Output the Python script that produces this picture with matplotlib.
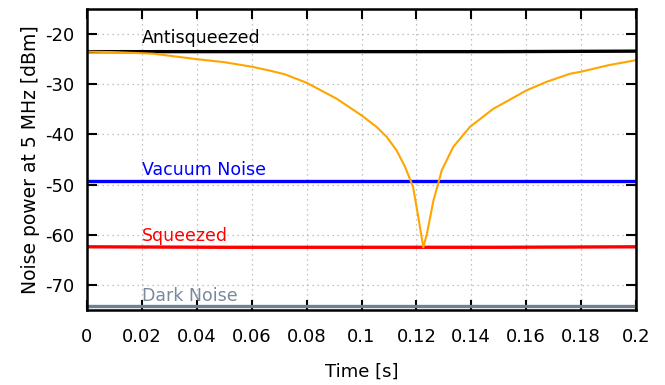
import matplotlib
matplotlib.use("Agg")
from matplotlib import pyplot as plt

# orange trace (time [s], power [dBm])
sweep_t = [0.0, 0.01, 0.024, 0.04, 0.05, 0.06, 0.0667, 0.072, 0.08, 0.091,
           0.1, 0.1055, 0.1092, 0.1128, 0.1159, 0.1188, 0.1207, 0.1225,
           0.1238, 0.1262, 0.1286, 0.1292, 0.1334, 0.1395, 0.148, 0.1602,
           0.1675, 0.176, 0.18, 0.19, 0.2]
sweep_db = [-23.5, -23.6, -23.9, -25.0, -25.6, -26.5, -27.3, -28.0, -29.7, -32.9,
            -36.2, -38.5, -40.5, -43.2, -46.5, -50.5, -56.5, -62.5,
            -59.9, -53.2, -48.5, -47.2, -42.5, -38.5, -34.9, -31.2,
            -29.5, -27.9, -27.5, -26.2, -25.2]

# flat traces
flat_t = [0.0, 0.05, 0.1, 0.15, 0.2]
antisq_db = [-23.5, -23.5, -23.5, -23.5, -23.4]
vacuum_db = [-49.3, -49.3, -49.3, -49.3, -49.3]
squeezed_db = [-62.4, -62.5, -62.5, -62.5, -62.4]
dark_db = [-74.3, -74.3, -74.3, -74.3, -74.3]

labels = ["Antisqueezed", "Vacuum Noise", "Squeezed", "Dark Noise"]
label_y = [-20.8, -47.0, -60.2, -72.2]
colors = ["black", "#0000ff", "#ff0000", "#708090"]
text_colors = ["black", "#0000ff", "#ff0000", "#7a8a9c"]

xticks = [0, 0.02, 0.04, 0.06, 0.08, 0.1, 0.12, 0.14, 0.16, 0.18, 0.2]
xtick_labels = ["0", "0.02", "0.04", "0.06", "0.08", "0.1", "0.12", "0.14", "0.16", "0.18", "0.2"]
yticks = [-70, -60, -50, -40, -30, -20]

plt.rcParams["font.family"] = ["DejaVu Sans"]
plt.rcParams["axes.unicode_minus"] = False
fig = plt.figure(figsize=(6.65, 3.85), dpi=100)
ax = fig.add_axes([87 / 665, 1 - 310 / 385, (636 - 87) / 665, (310 - 9) / 385])

for series, c in zip([antisq_db, vacuum_db, squeezed_db, dark_db], colors):
    ax.plot(flat_t, series, color=c, lw=2.4)
ax.plot(sweep_t, sweep_db, color="#ffa500", lw=1.5)

for lab, ly, c in zip(labels, label_y, text_colors):
    ax.text(0.02, ly, lab, color=c, fontsize=12.5, va="center", ha="left")

ax.set_xlim(0, 0.2)
ax.set_ylim(-75, -15)
ax.set_xticks(xticks)
ax.set_xticklabels(xtick_labels)
ax.set_yticks(yticks)
ax.grid(True, color="#b0b0b0", linestyle=(0, (1, 3)), lw=0.9)
ax.tick_params(direction="in", length=7, width=1.5, top=True, right=True, labelsize=13)
ax.tick_params(axis="x", pad=13)
ax.tick_params(axis="y", pad=9)
for s in ax.spines.values():
    s.set_linewidth(1.8)
ax.set_xlabel("Time [s]", fontsize=13, labelpad=12)
ax.set_ylabel("Noise power at 5 MHz [dBm]", fontsize=13.5, labelpad=4)

fig.savefig("out.png", dpi=100)
